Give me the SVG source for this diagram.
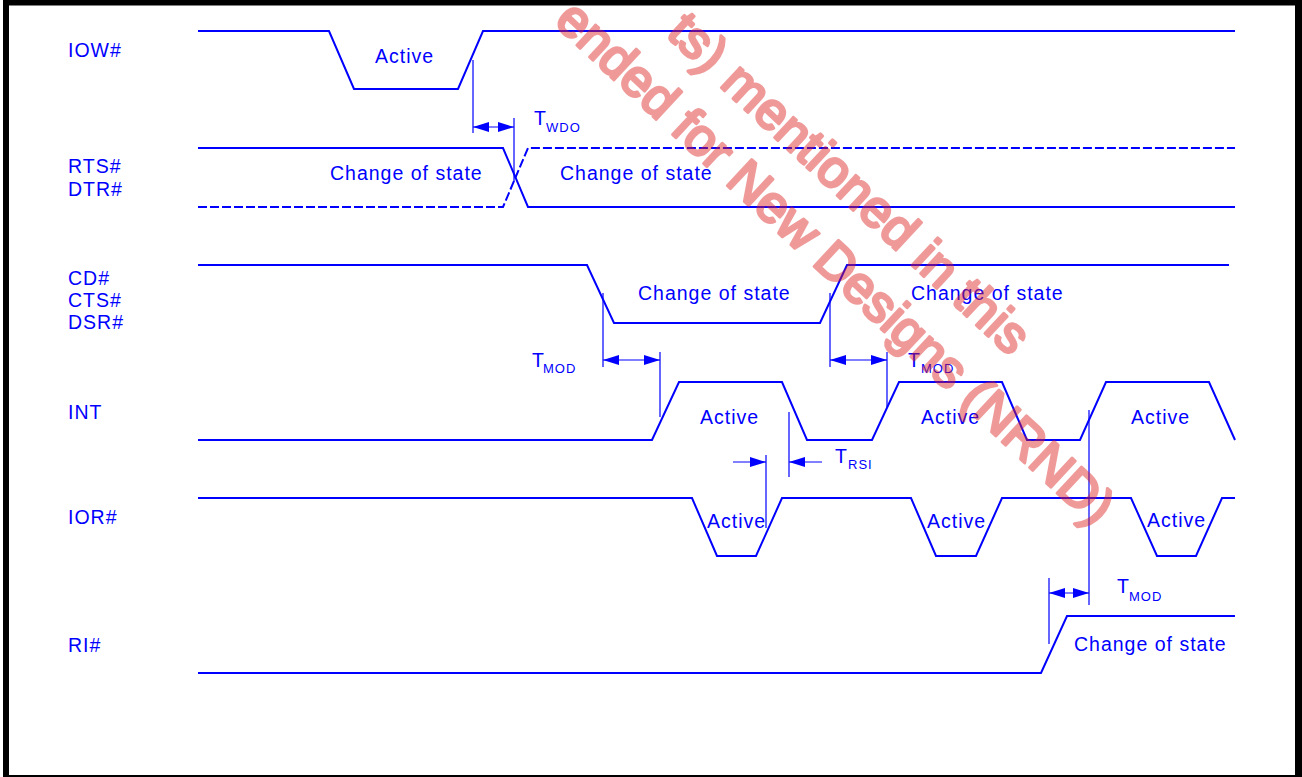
<svg xmlns="http://www.w3.org/2000/svg" width="1302" height="777" viewBox="0 0 1302 777">
<style>
.sig{fill:none;stroke:#0000ff;stroke-width:2;stroke-linejoin:miter}
.dash{stroke-dasharray:9 3}
.tl{fill:none;stroke:#0000ff;stroke-width:1.2}
.txt{font-family:"Liberation Sans",Arial,Helvetica,sans-serif;font-size:19.5px;fill:#0000ff;letter-spacing:1px}
.sub{font-size:13px;letter-spacing:1px}
.wm{font-family:"Liberation Sans",Arial,Helvetica,sans-serif;font-size:52px;fill:rgb(220,30,30);stroke:rgb(220,30,30);stroke-width:3;stroke-linejoin:round}
</style>
<defs>
<marker id="ah" viewBox="0 0 16 10" refX="16" refY="5" markerWidth="16" markerHeight="10" markerUnits="userSpaceOnUse" orient="auto-start-reverse">
<path d="M0,0 L16,5 L0,10 z" fill="#0000ff"/>
</marker>
</defs>
<rect width="1302" height="777" fill="#ffffff"/>
<g id="frame" fill="#000000">
<rect x="3" y="0" width="1299" height="5.5"/>
<rect x="3" y="0" width="6" height="777"/>
<rect x="1295" y="0" width="7" height="777"/>
<rect x="3" y="775" width="1299" height="2"/>
</g>
<g id="iow">
<text class="txt" x="68" y="57">IOW#</text>
<path class="sig" d="M198,31 H329 L354,89 H458 L483,31 H1235"/>
<text class="txt" x="375" y="63">Active</text>
</g>
<g id="rts-dtr">
<text class="txt" x="68" y="173">RTS#</text>
<text class="txt" x="68" y="196">DTR#</text>
<path class="sig" d="M198,148 H503 L528,207 H1235"/>
<path class="sig dash" d="M198,207 H503 L528,148 H1235"/>
<text class="txt" x="330" y="180">Change of state</text>
<text class="txt" x="560" y="180">Change of state</text>
</g>
<g id="cd-cts-dsr">
<text class="txt" x="68" y="285">CD#</text>
<text class="txt" x="68" y="307">CTS#</text>
<text class="txt" x="68" y="329">DSR#</text>
<path class="sig" d="M198,265 H587 L614,323 H820 L847,265 H1229"/>
<text class="txt" x="638" y="300">Change of state</text>
<text class="txt" x="911" y="300">Change of state</text>
</g>
<g id="int">
<text class="txt" x="68" y="419">INT</text>
<path class="sig" d="M198,440 H652 L679,382 H782 L807,440 H872 L899,382 H1002 L1027,440 H1080 L1106,382 H1209 L1235,440"/>
<text class="txt" x="700" y="424">Active</text>
<text class="txt" x="921" y="424">Active</text>
<text class="txt" x="1131" y="424">Active</text>
</g>
<g id="ior">
<text class="txt" x="68" y="524">IOR#</text>
<path class="sig" d="M198,498 H692 L717,556 H756 L782,498 H911 L936,556 H976 L1002,498 H1131 L1157,556 H1196 L1222,498 H1235"/>
<text class="txt" x="707" y="528">Active</text>
<text class="txt" x="927" y="528">Active</text>
<text class="txt" x="1147" y="527">Active</text>
</g>
<g id="ri">
<text class="txt" x="68" y="652">RI#</text>
<path class="sig" d="M198,673 H1041 L1067,616 H1235"/>
<text class="txt" x="1074" y="651">Change of state</text>
</g>
<g id="connectors">
<path class="tl" d="M473,60 V133 M514,118 V182"/>
<line class="tl" x1="473" y1="127" x2="514" y2="127" marker-start="url(#ah)" marker-end="url(#ah)"/>
<text class="txt" x="534" y="125">T</text><text class="txt sub" x="546" y="132">WDO</text>
<path class="tl" d="M603,293 V367 M660,352 V417"/>
<line class="tl" x1="603" y1="360" x2="660" y2="360" marker-start="url(#ah)" marker-end="url(#ah)"/>
<text class="txt" x="532" y="367">T</text><text class="txt sub" x="543" y="373">MOD</text>
<path class="tl" d="M830,293 V367 M887,352 V407"/>
<line class="tl" x1="830" y1="360" x2="887" y2="360" marker-start="url(#ah)" marker-end="url(#ah)"/>
<text class="txt" x="908" y="367">T</text><text class="txt sub" x="921" y="373">MOD</text>
<path class="tl" d="M766,455 V528 M789,412 V477"/>
<line class="tl" x1="733" y1="462" x2="766" y2="462" marker-end="url(#ah)"/>
<line class="tl" x1="822" y1="462" x2="789" y2="462" marker-end="url(#ah)"/>
<text class="txt" x="835" y="463">T</text><text class="txt sub" x="848" y="469">RSI</text>
<path class="tl" d="M1089,410 V605 M1049,578 V644"/>
<line class="tl" x1="1049" y1="593" x2="1089" y2="593" marker-start="url(#ah)" marker-end="url(#ah)"/>
<text class="txt" x="1117" y="593">T</text><text class="txt sub" x="1129" y="601">MOD</text>
</g>
<g id="watermark" opacity="0.45">
<text class="wm" transform="translate(665,35) rotate(43)" textLength="472">ts) mentioned in this</text>
<text class="wm" transform="translate(553,23) rotate(43)">ended for New Designs (NRND)</text>
</g>
</svg>
